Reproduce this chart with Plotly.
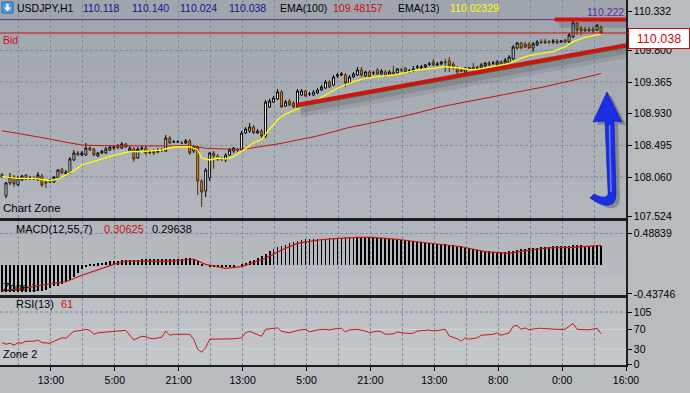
import plotly.graph_objects as go

# ---------------- data ----------------
bars = list(range(151))

opens = [108.095, 107.799, 107.978, 108.060, 107.950, 108.019, 108.088, 108.046, 108.046, 108.019,
         108.074, 107.991, 107.991, 107.991, 108.046, 108.170, 108.101, 108.115, 108.294, 108.390,
         108.362, 108.362, 108.458, 108.445, 108.349, 108.390, 108.390, 108.431, 108.458, 108.500,
         108.458, 108.513, 108.417, 108.445, 108.321, 108.445, 108.458, 108.404, 108.417, 108.404,
         108.431, 108.417, 108.596, 108.541, 108.541, 108.527, 108.527, 108.555, 108.417, 108.472,
         108.005, 107.868, 108.046, 108.390, 108.349, 108.307, 108.294, 108.362, 108.417, 108.431,
         108.431, 108.665, 108.692, 108.747, 108.665, 108.692, 108.623, 109.022, 109.090, 109.132,
         109.228, 109.035, 109.104, 109.077, 109.022, 109.186, 109.241, 109.200, 109.186, 109.214,
         109.255, 109.283, 109.365, 109.324, 109.447, 109.461, 109.461, 109.351, 109.434, 109.461,
         109.530, 109.447, 109.502, 109.489, 109.530, 109.475, 109.502, 109.461, 109.502, 109.489,
         109.530, 109.557, 109.516, 109.516, 109.571, 109.557, 109.571, 109.612, 109.640, 109.599,
         109.612, 109.640, 109.654, 109.612, 109.557, 109.530, 109.502, 109.544, 109.571, 109.557,
         109.557, 109.585, 109.626, 109.626, 109.599, 109.640, 109.626, 109.626, 109.681, 109.832,
         109.901, 109.887, 109.887, 109.832, 109.873, 109.915, 109.928, 109.915, 109.915, 109.928,
         109.915, 109.942, 109.915, 109.983, 110.176, 110.107, 110.093, 110.093, 110.093, 110.079,
         110.118]

highs = [108.115, 107.991, 108.115, 108.088, 108.074, 108.088, 108.101, 108.074, 108.074, 108.129,
         108.101, 108.019, 108.033, 108.074, 108.170, 108.184, 108.156, 108.335, 108.431, 108.417,
         108.417, 108.527, 108.486, 108.458, 108.404, 108.431, 108.472, 108.486, 108.500, 108.513,
         108.541, 108.527, 108.486, 108.472, 108.472, 108.486, 108.486, 108.431, 108.445, 108.458,
         108.458, 108.637, 108.623, 108.568, 108.568, 108.555, 108.582, 108.582, 108.500, 108.486,
         108.033, 108.184, 108.404, 108.417, 108.376, 108.335, 108.390, 108.458, 108.472, 108.458,
         108.692, 108.747, 108.802, 108.774, 108.719, 108.719, 109.118, 109.132, 109.173, 109.269,
         109.255, 109.118, 109.132, 109.104, 109.269, 109.269, 109.255, 109.228, 109.255, 109.283,
         109.324, 109.393, 109.393, 109.461, 109.489, 109.502, 109.489, 109.461, 109.502, 109.571,
         109.571, 109.516, 109.530, 109.516, 109.557, 109.544, 109.530, 109.530, 109.585, 109.557,
         109.557, 109.571, 109.544, 109.585, 109.599, 109.599, 109.612, 109.640, 109.681, 109.640,
         109.654, 109.681, 109.708, 109.640, 109.585, 109.557, 109.571, 109.571, 109.626, 109.585,
         109.626, 109.640, 109.654, 109.654, 109.667, 109.667, 109.695, 109.736, 109.873, 109.915,
         109.915, 109.915, 109.915, 109.915, 109.942, 109.956, 109.956, 109.942, 109.956, 109.956,
         109.942, 109.956, 110.038, 110.222, 110.189, 110.134, 110.121, 110.121, 110.121, 110.162,
         110.140]

lows = [108.046, 107.772, 107.950, 107.923, 107.937, 108.005, 108.019, 108.019, 108.019, 108.005,
        107.923, 107.909, 107.978, 107.978, 108.033, 108.101, 108.088, 108.101, 108.280, 108.349,
        108.349, 108.349, 108.417, 108.349, 108.335, 108.376, 108.376, 108.417, 108.431, 108.445,
        108.445, 108.458, 108.404, 108.266, 108.307, 108.431, 108.362, 108.376, 108.362, 108.390,
        108.404, 108.404, 108.513, 108.527, 108.527, 108.513, 108.513, 108.362, 108.390, 107.813,
        107.648, 107.785, 108.005, 108.170, 108.280, 108.280, 108.266, 108.349, 108.390, 108.404,
        108.417, 108.651, 108.665, 108.651, 108.651, 108.596, 108.596, 109.008, 109.077, 109.118,
        109.008, 109.022, 109.035, 109.008, 109.008, 109.173, 109.159, 109.173, 109.173, 109.200,
        109.241, 109.269, 109.283, 109.310, 109.420, 109.447, 109.296, 109.338, 109.420, 109.447,
        109.434, 109.434, 109.420, 109.461, 109.461, 109.461, 109.434, 109.447, 109.461, 109.475,
        109.502, 109.489, 109.489, 109.502, 109.544, 109.530, 109.557, 109.585, 109.585, 109.585,
        109.599, 109.502, 109.502, 109.530, 109.475, 109.502, 109.489, 109.530, 109.516, 109.530,
        109.544, 109.571, 109.585, 109.599, 109.585, 109.599, 109.612, 109.612, 109.667, 109.818,
        109.818, 109.832, 109.818, 109.777, 109.860, 109.887, 109.887, 109.887, 109.887, 109.887,
        109.901, 109.901, 109.901, 109.969, 110.011, 110.011, 110.052, 110.052, 110.038, 110.066,
        110.024]

closes = [108.060, 107.978, 108.060, 107.964, 108.046, 108.074, 108.033, 108.046, 108.033, 108.088,
          107.950, 107.978, 108.019, 108.060, 108.156, 108.115, 108.129, 108.307, 108.390, 108.362,
          108.390, 108.458, 108.431, 108.362, 108.390, 108.417, 108.445, 108.472, 108.472, 108.458,
          108.513, 108.472, 108.458, 108.307, 108.445, 108.458, 108.390, 108.404, 108.390, 108.431,
          108.431, 108.596, 108.527, 108.541, 108.541, 108.527, 108.555, 108.390, 108.472, 108.005,
          107.854, 108.156, 108.390, 108.349, 108.307, 108.307, 108.362, 108.431, 108.458, 108.431,
          108.665, 108.719, 108.747, 108.665, 108.692, 108.623, 109.090, 109.104, 109.145, 109.228,
          109.022, 109.090, 109.049, 109.022, 109.241, 109.241, 109.173, 109.200, 109.228, 109.255,
          109.296, 109.365, 109.296, 109.434, 109.461, 109.475, 109.351, 109.434, 109.475, 109.530,
          109.461, 109.502, 109.434, 109.489, 109.475, 109.516, 109.447, 109.502, 109.475, 109.544,
          109.530, 109.502, 109.516, 109.544, 109.571, 109.571, 109.599, 109.612, 109.599, 109.612,
          109.640, 109.636, 109.585, 109.571, 109.502, 109.516, 109.557, 109.557, 109.530, 109.557,
          109.599, 109.626, 109.599, 109.626, 109.640, 109.612, 109.667, 109.708, 109.846, 109.901,
          109.832, 109.846, 109.832, 109.887, 109.915, 109.912, 109.901, 109.912, 109.928, 109.901,
          109.928, 109.915, 110.011, 110.176, 110.079, 110.066, 110.066, 110.066, 110.066, 110.148,
          110.038]

ema13_x = [0, 4, 8, 10, 12, 14, 16, 18, 20, 23, 25, 27, 30, 32, 35, 38, 40, 43, 47, 49, 50, 52, 54,
           56, 58, 61, 63, 65, 66, 67, 68, 69, 71, 74, 76, 78, 81, 84, 88, 91, 94, 98, 101, 104, 108,
           111, 114, 118, 123, 127, 129, 131, 135, 138, 141, 143, 146, 150]
ema13_y = [108.064, 108.042, 108.042, 108.029, 108.009, 108.033, 108.088, 108.147, 108.225, 108.270,
           108.303, 108.339, 108.386, 108.408, 108.408, 108.417, 108.431, 108.472, 108.476, 108.431,
           108.321, 108.294, 108.321, 108.307, 108.339, 108.450, 108.530, 108.575, 108.651, 108.719,
           108.774, 108.850, 108.925, 108.994, 109.042, 109.094, 109.186, 109.279, 109.369, 109.416,
           109.438, 109.461, 109.493, 109.530, 109.553, 109.575, 109.561, 109.530, 109.575, 109.622,
           109.667, 109.713, 109.759, 109.781, 109.850, 109.919, 109.979, 110.023]

ema100_x = [0, 4, 8, 12, 16, 20, 25, 33, 41, 46, 49, 51, 58, 62, 66, 70, 74, 79, 83, 86, 94, 102,
            110, 119, 127, 136, 144, 150]
ema100_y = [108.696, 108.660, 108.623, 108.582, 108.537, 108.500, 108.490, 108.486, 108.486, 108.490,
            108.476, 108.454, 108.441, 108.454, 108.486, 108.523, 108.568, 108.623, 108.682, 108.729,
            108.820, 108.912, 109.026, 109.118, 109.210, 109.301, 109.402, 109.482]

macd_hist = [-0.40, -0.40, -0.41, -0.40, -0.40, -0.40, -0.40, -0.40, -0.40, -0.39,
             -0.39, -0.37, -0.35, -0.32, -0.31, -0.29, -0.25, -0.22, -0.17, -0.12,
             -0.06, -0.02, 0.01, 0.02, 0.03, 0.04, 0.05, 0.06, 0.067, 0.072,
             0.078, 0.082, 0.085, 0.088, 0.09, 0.092, 0.093, 0.093, 0.092, 0.093,
             0.093, 0.095, 0.094, 0.093, 0.10, 0.105, 0.11, 0.11, 0.10, 0.06,
             0.02, 0.0, -0.01, -0.015, -0.02, -0.02, -0.02, -0.015, -0.01, 0.0,
             0.02, 0.04, 0.07, 0.09, 0.11, 0.14, 0.18, 0.22, 0.25, 0.28,
             0.30, 0.32, 0.35, 0.36, 0.38, 0.39, 0.40, 0.40, 0.405, 0.41,
             0.41, 0.41, 0.415, 0.42, 0.42, 0.425, 0.43, 0.43, 0.43, 0.435,
             0.435, 0.435, 0.43, 0.43, 0.425, 0.42, 0.415, 0.41, 0.40, 0.395,
             0.39, 0.385, 0.375, 0.37, 0.36, 0.355, 0.35, 0.345, 0.34, 0.335,
             0.33, 0.325, 0.32, 0.31, 0.30, 0.29, 0.28, 0.265, 0.25, 0.235,
             0.225, 0.22, 0.215, 0.21, 0.21, 0.21, 0.21, 0.215, 0.225, 0.235,
             0.245, 0.25, 0.26, 0.265, 0.27, 0.277, 0.28, 0.285, 0.29, 0.29,
             0.295, 0.30, 0.30, 0.305, 0.31, 0.305, 0.30, 0.30, 0.30, 0.30,
             0.29638]

macd_sig_x = [0, 5, 10, 16, 20, 25, 28, 31, 43, 48, 51, 56, 60, 66, 70, 74, 79, 84, 89, 93, 99,
              104, 110, 115, 121, 127, 132, 137, 143, 150]
macd_sig_y = [-0.391, -0.36, -0.30, -0.25, -0.15, -0.044, 0.016, 0.067, 0.067, 0.098, 0.016, -0.044,
              -0.019, 0.11, 0.236, 0.337, 0.388, 0.413, 0.43, 0.43, 0.40, 0.362, 0.322, 0.286, 0.21,
              0.184, 0.235, 0.27, 0.276, 0.30625]

rsi_x = [0, 1, 2, 3, 4, 5, 6, 8, 9, 10, 12, 13, 15, 16, 17, 18, 20, 21, 22, 23, 24, 26, 28, 30, 31,
         33, 35, 36, 37, 38, 39, 40, 41, 42, 43, 46, 47, 48, 49, 50, 51, 52, 55, 58, 60, 61, 62, 64,
         65, 66, 68, 69, 70, 72, 74, 76, 77, 79, 81, 82, 84, 85, 86, 87, 89, 91, 92, 94, 95, 96, 98,
         99, 101, 103, 104, 107, 108, 110, 111, 112, 114, 115, 116, 117, 119, 120, 122, 123, 124,
         125, 127, 128, 129, 130, 131, 132, 134, 135, 139, 141, 143, 144, 147, 149, 150]
rsi_y = [43, 40, 42, 38, 43, 42, 46, 46, 48.5, 43, 42, 46, 53, 52, 60, 66, 68, 70, 68, 60, 63, 64,
         66, 67, 68, 48.5, 56, 55, 52, 51, 52, 54, 66.6, 58, 60, 60, 60, 50, 30, 24, 33, 50, 50, 51,
         53, 63, 66, 60, 56, 70, 71, 73, 66, 63, 68, 70, 65, 69, 70, 69, 72, 72, 65, 69, 70, 66.6,
         63, 66.6, 65, 60, 61, 64.6, 62, 62, 66.6, 68.7, 66.6, 68, 70, 56.5, 51, 46.4, 53, 50, 53,
         58, 60, 60, 63, 58, 63, 76.7, 77.6, 70, 73, 69, 72, 72, 70, 70, 82, 70, 69, 72, 61]

price_ticks = [110.332, 109.800, 109.365, 108.930, 108.495, 108.060, 107.524]
price_tick_text = ["110.332", "109.800", "109.365", "108.930", "108.495", "108.060", "107.524"]
price_grid = [109.800, 109.365, 108.930, 108.495, 108.060]
macd_ticks = [0.48839, -0.43746]
macd_tick_text = ["0.48839", "-0.43746"]
rsi_ticks = [105, 70, 30, 0]
time_labels = ["13:00", "5:00", "21:00", "13:00", "5:00", "21:00", "13:00", "8:00", "0:00", "16:00"]
time_label_pos = [12.25, 28.25, 44.25, 60.25, 76.25, 92.25, 108.25, 124.25, 140.25, 156.25]
time_grid_pos = [4.25, 20.25, 36.25, 52.25, 68.25, 84.25, 100.25, 116.25, 132.25, 148.25]

bid_price = 110.038
level_price = 110.222
trend_x = [73.75, 156.25]
trend_y = [109.049, 109.871]
top_line_x = [138.4, 157.0]

# ---------------- layout helpers ----------------
W, H = 626.0, 365.0
def px(x):
    return x / W
def py(y):
    return (H - y) / H

FONT = "Liberation Sans, Arial, sans-serif"
GRID = "#7f8c9a"

fig = go.Figure()

fig.add_trace(go.Scatter(x=ema100_x, y=ema100_y, mode="lines", line=dict(color="#c41414", width=1),
                         xaxis="x", yaxis="y", hoverinfo="skip", showlegend=False))
fig.add_trace(go.Scatter(x=ema13_x, y=ema13_y, mode="lines", line=dict(color="#ffff00", width=1.3),
                         xaxis="x", yaxis="y", hoverinfo="skip", showlegend=False))
fig.add_trace(go.Candlestick(x=bars, open=opens, high=highs, low=lows, close=closes,
                             increasing=dict(line=dict(color="#000000", width=1), fillcolor="#ffffff"),
                             decreasing=dict(line=dict(color="#4a2c08", width=1), fillcolor="#dc8a1c"),
                             whiskerwidth=0, xaxis="x", yaxis="y", hoverinfo="skip", showlegend=False))

fig.add_trace(go.Bar(x=bars, y=macd_hist, width=0.22, marker=dict(color="#000000", line=dict(width=0)),
                     xaxis="x2", yaxis="y2", hoverinfo="skip", showlegend=False))
fig.add_trace(go.Scatter(x=macd_sig_x, y=macd_sig_y, mode="lines", line=dict(color="#cc1414", width=1.2),
                         xaxis="x2", yaxis="y2", hoverinfo="skip", showlegend=False))

fig.add_trace(go.Scatter(x=rsi_x, y=rsi_y, mode="lines", line=dict(color="#cc1414", width=1),
                         xaxis="x3", yaxis="y3", hoverinfo="skip", showlegend=False))

shapes = []

def band(y0, y1, c0, c1, n):
    for k in range(n):
        t = k / max(n - 1, 1)
        c = tuple(int(round(c0[j] + (c1[j] - c0[j]) * t)) for j in range(3))
        ya = y0 + (y1 - y0) * k / n
        yb = y0 + (y1 - y0) * (k + 1) / n
        shapes.append(dict(type="rect", xref="paper", yref="paper", x0=0, x1=1, y0=py(yb), y1=py(ya),
                           fillcolor="rgb(%d,%d,%d)" % c, line=dict(width=0), layer="below"))

band(0, 218, (160, 166, 174), (178, 182, 188), 12)
band(219, 297, (178, 182, 188), (186, 190, 195), 4)
band(297, 366, (188, 192, 197), (196, 199, 203), 4)

for v in price_grid:
    shapes.append(dict(type="line", xref="paper", yref="y", x0=0, x1=1, y0=v, y1=v,
                       line=dict(color=GRID, width=1, dash="3px,2px"), layer="below"))
shapes.append(dict(type="line", xref="paper", yref="y2", x0=0, x1=1, y0=macd_ticks[0], y1=macd_ticks[0],
                   line=dict(color=GRID, width=1, dash="3px,2px"), layer="below"))
shapes.append(dict(type="line", xref="paper", yref="y3", x0=0, x1=1, y0=105, y1=105,
                   line=dict(color=GRID, width=1, dash="3px,2px"), layer="below"))
for v in (70, 30):
    shapes.append(dict(type="line", xref="paper", yref="y3", x0=0, x1=1, y0=v, y1=v,
                       line=dict(color="#d2d5d9", width=1), layer="below"))

# level line and bid line
shapes.append(dict(type="line", xref="paper", yref="y", x0=0, x1=1, y0=level_price, y1=level_price,
                   line=dict(color="#55308f", width=1)))
shapes.append(dict(type="line", xref="paper", yref="y", x0=0, x1=px(629), y0=bid_price, y1=bid_price,
                   line=dict(color="#cc1010", width=1)))

# trend lines with shadow
shapes.append(dict(type="line", xref="x", yref="y", x0=trend_x[0] + 1, x1=trend_x[1] + 1,
                   y0=trend_y[0] - 0.085, y1=trend_y[1] - 0.085,
                   line=dict(color="rgba(60,62,70,0.13)", width=12)))
shapes.append(dict(type="line", xref="x", yref="y", x0=trend_x[0] + 1, x1=trend_x[1] + 1,
                   y0=trend_y[0] - 0.07, y1=trend_y[1] - 0.07,
                   line=dict(color="rgba(60,62,70,0.18)", width=6)))
shapes.append(dict(type="line", xref="x", yref="y", x0=trend_x[0], x1=trend_x[1],
                   y0=trend_y[0] - 0.03, y1=trend_y[1] - 0.03,
                   line=dict(color="#2f7a2a", width=1.2)))
shapes.append(dict(type="line", xref="x", yref="y", x0=trend_x[0], x1=trend_x[1],
                   y0=trend_y[0], y1=trend_y[1], line=dict(color="#d01212", width=4)))
shapes.append(dict(type="line", xref="x", yref="y", x0=top_line_x[0] + 1, x1=top_line_x[1],
                   y0=level_price - 0.065, y1=level_price - 0.065,
                   line=dict(color="rgba(60,62,70,0.2)", width=7)))
shapes.append(dict(type="line", xref="x", yref="y", x0=top_line_x[0], x1=top_line_x[1],
                   y0=level_price, y1=level_price, line=dict(color="#d01212", width=4)))

# blue arrow
def path(pts_cmds, dx=0, dy=0):
    out = []
    for cmd, pts in pts_cmds:
        if cmd == "Z":
            out.append("Z")
            continue
        coords = " ".join("%.5f,%.5f" % (px(x + dx), py(y + dy)) for x, y in pts)
        out.append(cmd + " " + coords)
    return " ".join(out)

arrow = [("M", [(593, 122)]), ("L", [(607, 92)]), ("L", [(622, 122)]), ("L", [(614, 121)]),
         ("L", [(616, 194)]), ("Q", [(616, 207), (604, 205)]), ("Q", [(597, 203), (590, 198)]),
         ("L", [(594, 194)]), ("Q", [(600, 198), (605, 197)]), ("Q", [(609, 196), (608, 190)]),
         ("L", [(605, 121)]), ("Z", [])]
shapes.append(dict(type="path", xref="paper", yref="paper", path=path(arrow, 4, 3),
                   fillcolor="rgba(55,58,70,0.35)", line=dict(width=0)))
shapes.append(dict(type="path", xref="paper", yref="paper", path=path(arrow),
                   fillcolor="#1a2ee6", line=dict(color="#0c1699", width=0.6)))
shapes.append(dict(type="line", xref="paper", yref="paper", x0=px(609.5), x1=px(611), y0=py(125), y1=py(192),
                   line=dict(color="rgba(140,160,255,0.7)", width=1.5)))

# header icon
shapes.append(dict(type="rect", xref="paper", yref="paper", x0=px(2), x1=px(13), y0=py(13), y1=py(2),
                   fillcolor="#4b9be2", line=dict(color="#2a68ad", width=1)))
icon = [("M", [(7.5, 11.5)]), ("L", [(3.8, 7.5)]), ("L", [(6.3, 7.5)]), ("L", [(6.3, 3.8)]),
        ("L", [(8.7, 3.8)]), ("L", [(8.7, 7.5)]), ("L", [(11.2, 7.5)]), ("Z", [])]
shapes.append(dict(type="path", xref="paper", yref="paper", path=path(icon),
                   fillcolor="#ffffff", line=dict(width=0)))

ann = []
def txt(x, y, s, color="#000000", size=10.5):
    ann.append(dict(xref="paper", yref="paper", x=px(x), y=py(y), xanchor="left", yanchor="middle",
                    text=s, showarrow=False, font=dict(family=FONT, size=size, color=color)))

txt(15, 8, "USDJPY,H1")
txt(81, 8, "110.118", "#14148a")
txt(130, 8, "110.140", "#14148a")
txt(178, 8, "110.024", "#14148a")
txt(227, 8, "110.038", "#14148a")
txt(278, 8, "EMA(100)")
txt(331, 8, "109.48157", "#c01010")
txt(396, 8, "EMA(13)")
txt(448, 8, "110.02329", "#ffff00")
txt(1, 40, "Bid", "#cc1010")
txt(585, 12, "110.222", "#5a2d9a")
txt(1, 208, "Chart Zone", size=11.5)
txt(14, 229, "MACD(12,55,7)", size=11)
txt(102, 229, "0.30625", "#cc1010", 11)
txt(150, 229, "0.29638", size=11)
txt(1, 287, "Zone 1", size=11)
txt(14, 304, "RSI(13)", size=11)
txt(59, 304, "61", "#cc1010", 11)
txt(1, 354, "Zone 2", size=11)

ann.append(dict(xref="paper", yref="paper", x=px(628), y=py(38.5), xanchor="left", yanchor="middle",
                text="110.038", showarrow=False, font=dict(family=FONT, size=12.5, color="#cc1010"),
                bgcolor="#ffffff", bordercolor="#cc1010", borderwidth=1, borderpad=2, width=56, height=15))

axis_common = dict(range=[-0.5, 156.25], tickvals=time_label_pos, ticktext=time_labels,
                   showgrid=True, gridcolor=GRID, griddash="3px,2px", gridwidth=1,
                   minor=dict(tickvals=time_grid_pos, showgrid=True, gridcolor=GRID,
                              griddash="3px,2px", gridwidth=1, ticks=""),
                   zeroline=False, fixedrange=True)

tickfont = dict(family=FONT, size=10.5, color="#000000")

fig.update_layout(
    width=690, height=393,
    margin=dict(l=0, r=64, t=0, b=28),
    paper_bgcolor="#b8bcc1",
    plot_bgcolor="rgba(0,0,0,0)",
    showlegend=False,
    hovermode=False,
    bargap=0,
    xaxis=dict(domain=[0, 1], anchor="y", showticklabels=False, ticks="",
               showline=True, linecolor="#1e1e1e", linewidth=2, mirror=False,
               rangeslider=dict(visible=False), **axis_common),
    xaxis2=dict(domain=[0, 1], anchor="y2", matches="x", showticklabels=False, ticks="",
                showline=True, linecolor="#1e1e1e", linewidth=2, mirror=True, **axis_common),
    xaxis3=dict(domain=[0, 1], anchor="y3", matches="x", showticklabels=True, ticks="outside",
                ticklen=4, tickcolor="#000000", tickfont=tickfont,
                showline=True, linecolor="#1e1e1e", linewidth=2, mirror=True, **axis_common),
    yaxis=dict(domain=[0.4041, 1], range=[107.5038, 110.4914], side="right", anchor="x",
               tickvals=price_ticks, ticktext=price_tick_text, ticks="outside", ticklen=4,
               tickcolor="#000000", tickfont=tickfont, showgrid=False, zeroline=False,
               showline=True, linecolor="#1e1e1e", linewidth=1.5, fixedrange=True),
    yaxis2=dict(domain=[0.1918, 0.3945], range=[-0.4527, 0.6797], side="right", anchor="x2",
                tickvals=macd_ticks, ticktext=macd_tick_text, ticks="outside", ticklen=4,
                tickcolor="#000000", tickfont=tickfont, showgrid=False, zeroline=False,
                showline=True, linecolor="#1e1e1e", linewidth=1.5, fixedrange=True),
    yaxis3=dict(domain=[0, 0.1822], range=[-2.0, 132.3], side="right", anchor="x3",
                tickvals=rsi_ticks, ticks="outside", ticklen=4,
                tickcolor="#000000", tickfont=tickfont, showgrid=False, zeroline=False,
                showline=True, linecolor="#1e1e1e", linewidth=1.5, fixedrange=True),
    shapes=shapes,
    annotations=ann,
)

fig.write_html("out.html", config={"displayModeBar": False},
               post_script="document.body.style.margin='0';document.body.style.padding='0';")
